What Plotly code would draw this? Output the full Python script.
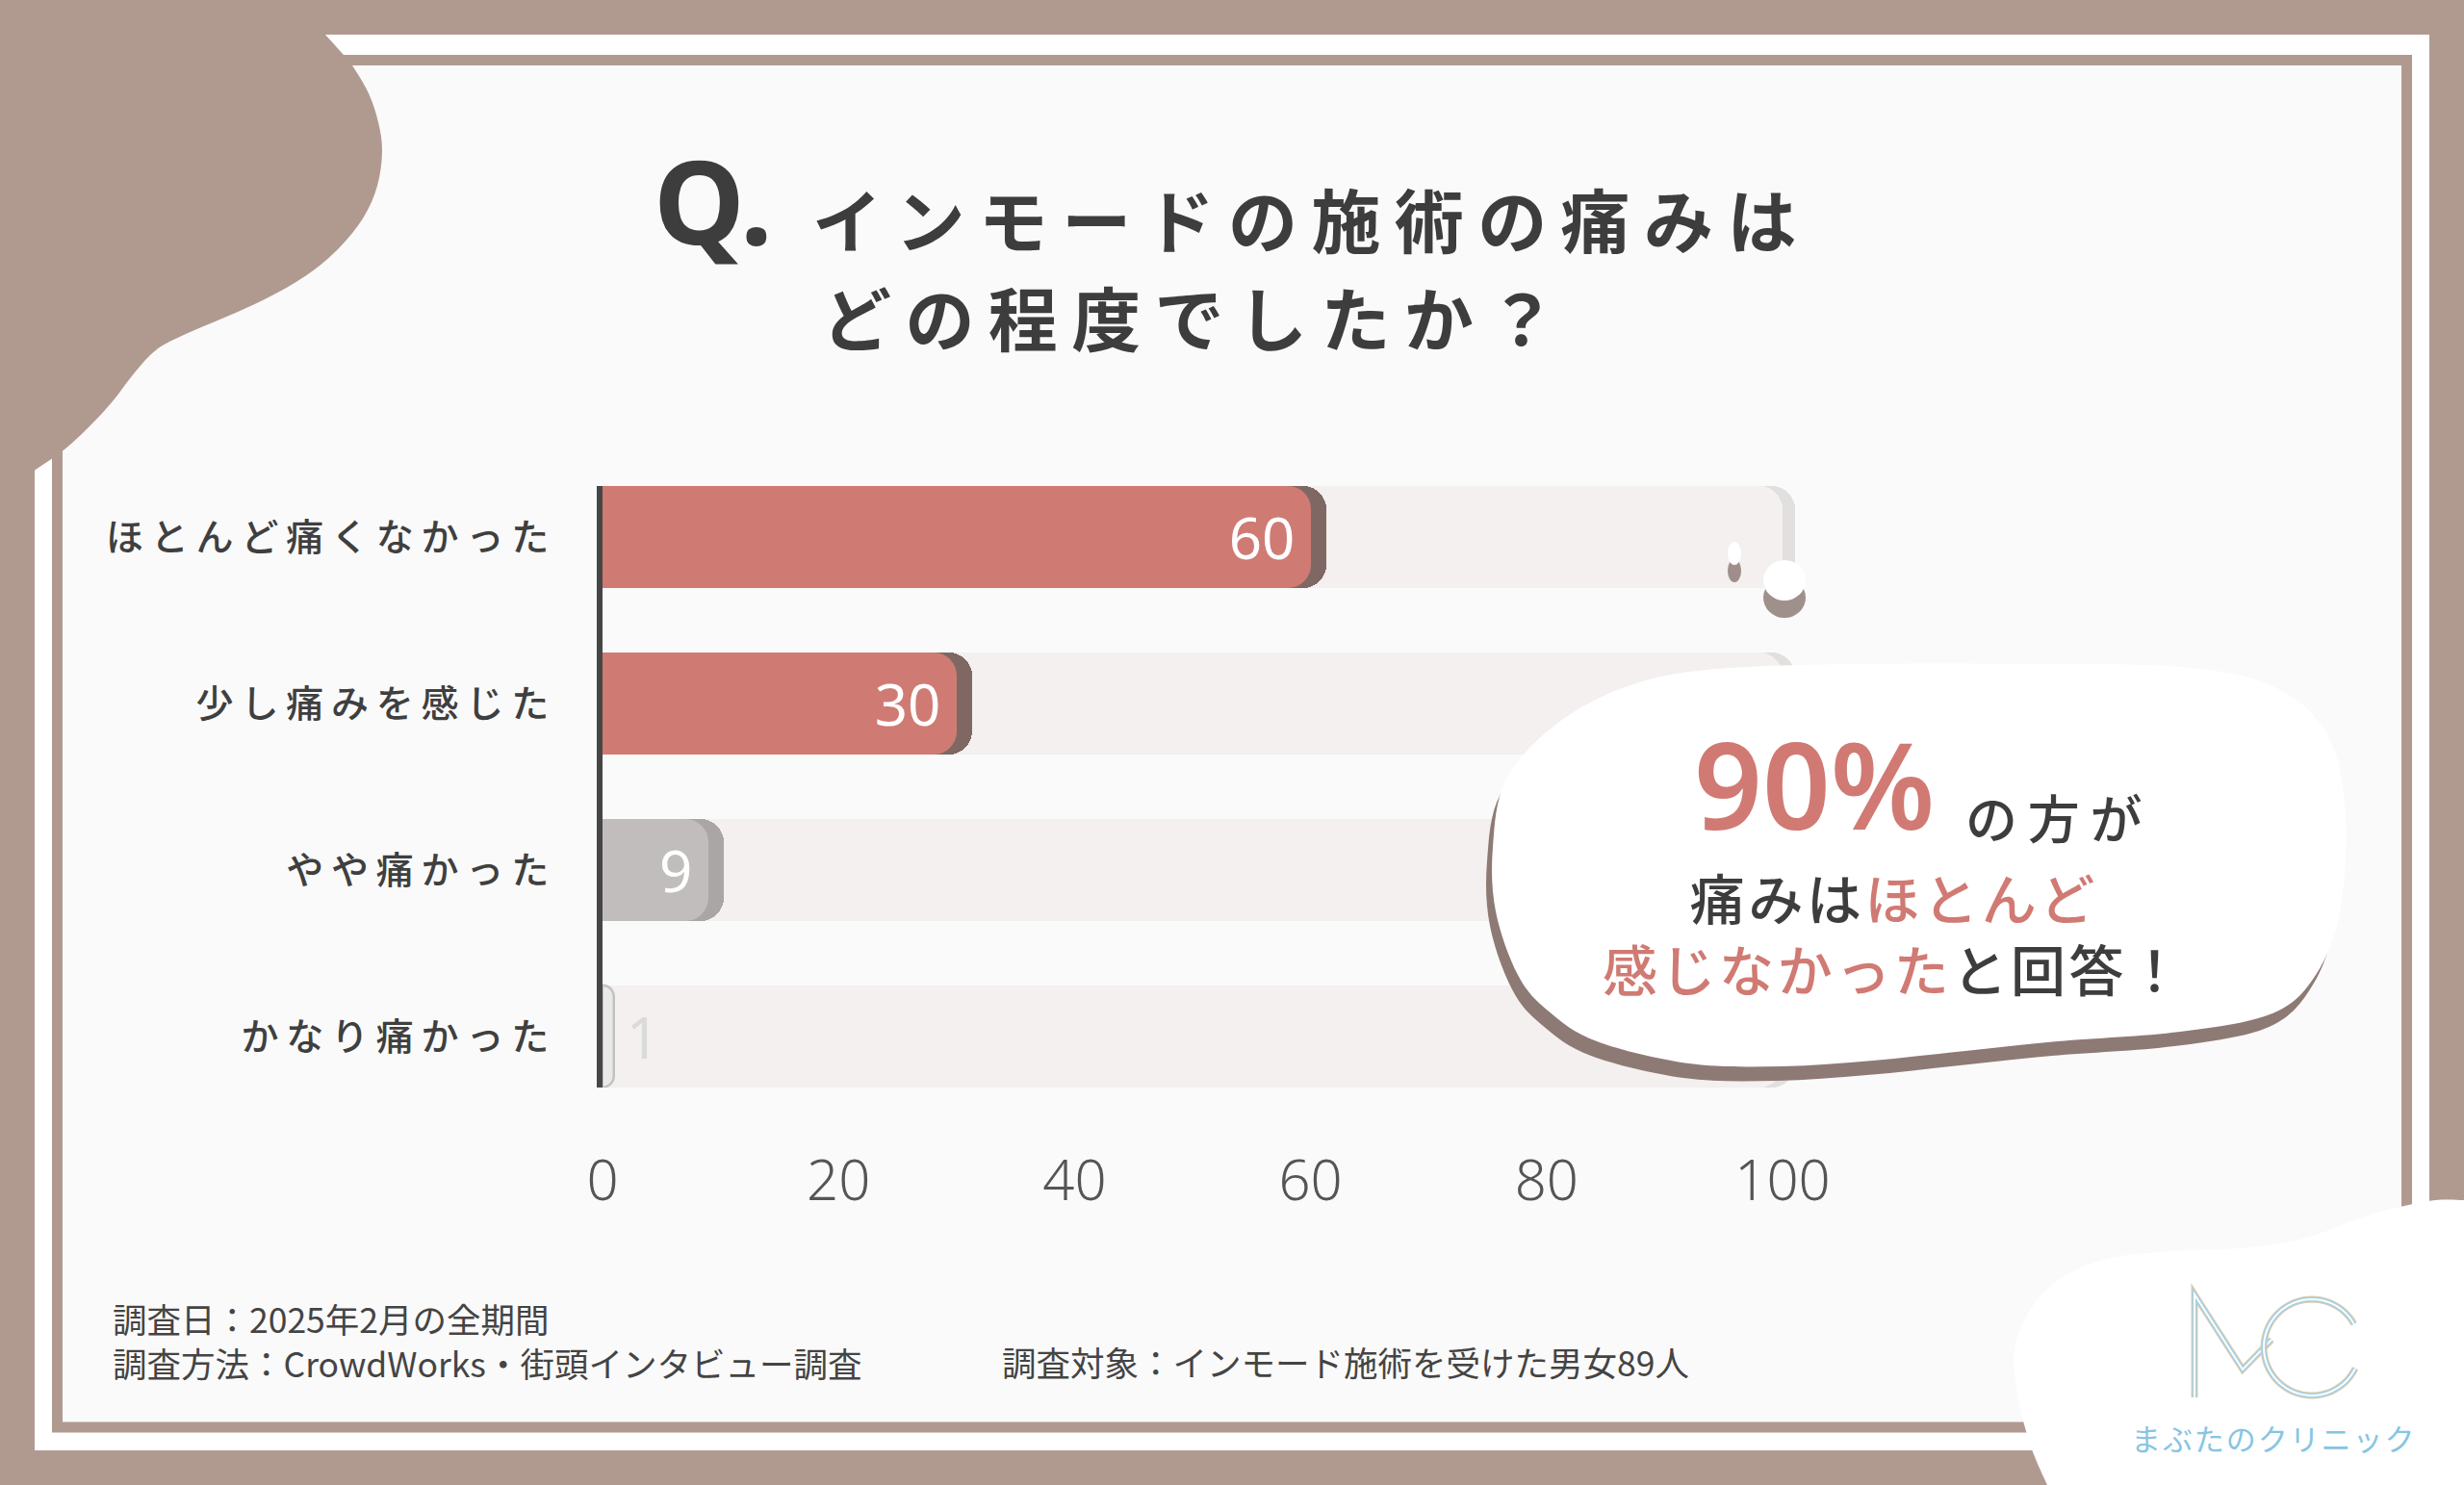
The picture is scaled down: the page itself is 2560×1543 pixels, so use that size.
import math
import plotly.graph_objects as go

# ---------------- data ----------------
categories = ["ほとんど痛くなかった", "少し痛みを感じた", "やや痛かった", "かなり痛かった"]
values = [60, 30, 9, 1]
full_scale = [100, 100, 100, 100]
x_ticks = [0, 20, 40, 60, 80, 100]

bar_colors = ["#cf7b74", "#cf7b74", "#c0bdbc", "#ebe9e8"]
shadow_colors = ["#7f6863", "#7f6863", "#a9a6a5", "rgba(0,0,0,0)"]
text_colors = ["#ffffff", "#ffffff", "#ffffff", "#dadada"]

title_q = "Q."
title_line1 = "インモードの施術の痛みは"
title_line2 = "どの程度でしたか？"
footer_date = "調査日：2025年2月の全期間"
footer_method = "調査方法：CrowdWorks・街頭インタビュー調査"
footer_target = "調査対象：インモード施術を受けた男女89人"
logo_text = "まぶたのクリニック"

# ---------------- helpers ----------------
W, H = 2560, 1543
TAUPE = "#b09a90"
DARK = "#3d3d3d"
JP = "Noto Sans CJK JP"


def px(x):
    return x / W


def py(y):
    return 1 - y / H


def spaced(s, sep="\u2009"):
    return sep.join(list(s))


def smooth_path(pts, closed=True, head=None, tail=None):
    n = len(pts)
    segs = []
    if head:
        segs.append("M {:.5f},{:.5f}".format(px(head[0][0]), py(head[0][1])))
        for p in head[1:]:
            segs.append("L {:.5f},{:.5f}".format(px(p[0]), py(p[1])))
        segs.append("L {:.5f},{:.5f}".format(px(pts[0][0]), py(pts[0][1])))
    else:
        segs.append("M {:.5f},{:.5f}".format(px(pts[0][0]), py(pts[0][1])))
    rng = n if closed else n - 1
    for i in range(rng):
        p0 = pts[(i - 1) % n] if (closed or i > 0) else pts[i]
        p1 = pts[i]
        p2 = pts[(i + 1) % n]
        p3 = pts[(i + 2) % n] if (closed or i + 2 < n) else p2
        c1 = (p1[0] + (p2[0] - p0[0]) / 6, p1[1] + (p2[1] - p0[1]) / 6)
        c2 = (p2[0] - (p3[0] - p1[0]) / 6, p2[1] - (p3[1] - p1[1]) / 6)
        segs.append("C {:.5f},{:.5f} {:.5f},{:.5f} {:.5f},{:.5f}".format(
            px(c1[0]), py(c1[1]), px(c2[0]), py(c2[1]), px(p2[0]), py(p2[1])))
    if tail:
        for p in tail:
            segs.append("L {:.5f},{:.5f}".format(px(p[0]), py(p[1])))
    segs.append("Z")
    return " ".join(segs)


def line_path(pts):
    d = "M {:.5f},{:.5f}".format(px(pts[0][0]), py(pts[0][1]))
    for p in pts[1:]:
        d += " L {:.5f},{:.5f}".format(px(p[0]), py(p[1]))
    return d


# ---------------- figure ----------------
fig = go.Figure()
RAD = 24
BW = 0.612

# each layer on its own (overlaid) y axis so that every bar gets its own rounded end
# background track shadow
fig.add_trace(go.Bar(
    y=categories, x=[v + 1.1 for v in full_scale], orientation="h", yaxis="y",
    marker=dict(color="#e2e0df", cornerradius=RAD, line=dict(width=0)),
    width=BW, hoverinfo="skip", showlegend=False))
# background track (100%)
fig.add_trace(go.Bar(
    y=categories, x=full_scale, orientation="h", yaxis="y2",
    marker=dict(color="#f3f0ef", cornerradius=RAD, line=dict(width=0)),
    width=BW, hoverinfo="skip", showlegend=False))
# value bar shadows
fig.add_trace(go.Bar(
    y=categories, x=[v + 1.3 for v in values], orientation="h", yaxis="y3",
    marker=dict(color=shadow_colors, cornerradius=RAD, line=dict(width=0)),
    width=BW, hoverinfo="skip", showlegend=False))
# value bars
fig.add_trace(go.Bar(
    y=categories, x=values, orientation="h", yaxis="y4",
    marker=dict(color=bar_colors, cornerradius=RAD,
                line=dict(color=["rgba(0,0,0,0)"] * 3 + ["#c2c2c2"], width=[0, 0, 0, 2.5])),
    width=BW,
    text=[(f"{v}\u2009" if v >= 5 else f"\u2009{v}") for v in values],
    textposition=[("inside" if v >= 5 else "outside") for v in values],
    insidetextanchor="end", textangle=0,
    insidetextfont=dict(family="Noto Sans", size=60, color=text_colors),
    outsidetextfont=dict(family="Noto Sans", size=60, color=text_colors),
    cliponaxis=False, hoverinfo="skip", showlegend=False))

X0, UNIT, XMAX = 626, 12.26, 112
plot_top, plot_bot = 505, 1130
YRANGE = [3.306, -0.306]

hidden_y = dict(type="category", categoryarray=categories, range=YRANGE,
                overlaying="y", visible=False, showgrid=False, zeroline=False,
                automargin=False)

fig.update_layout(
    width=W, height=H, autosize=False,
    margin=dict(l=0, r=0, t=0, b=0, pad=0),
    paper_bgcolor=TAUPE, plot_bgcolor="rgba(0,0,0,0)",
    barmode="overlay", bargap=0,
    xaxis=dict(domain=[px(X0), px(X0 + XMAX * UNIT)], range=[0, XMAX],
               tickvals=x_ticks, ticks="", showgrid=False, zeroline=False,
               showline=False, ticklabelstandoff=58, automargin=False,
               tickfont=dict(family="Noto Sans", size=58, color="#555555", weight=300)),
    yaxis=dict(domain=[py(plot_bot), py(plot_top)], type="category",
               categoryarray=categories, range=YRANGE,
               tickvals=categories, ticktext=[spaced(c) for c in categories],
               ticks="", showgrid=False, zeroline=False, automargin=False,
               showline=True, linecolor="#464646", linewidth=6,
               ticklabelstandoff=42,
               tickfont=dict(family=JP, size=39, color="#3f3f3f", weight=500)),
    yaxis2=hidden_y, yaxis3=hidden_y, yaxis4=hidden_y,
    font=dict(family=JP),
)

shapes = []
# outer white panel
shapes.append(dict(type="rect", xref="paper", yref="paper", layer="below",
                   x0=px(36), x1=px(2524), y0=py(1507), y1=py(36),
                   fillcolor="#ffffff", line=dict(width=0)))
# inner fill
shapes.append(dict(type="rect", xref="paper", yref="paper", layer="below",
                   x0=px(65), x1=px(2495), y0=py(1478), y1=py(68),
                   fillcolor="#fafafa", line=dict(width=0)))
# taupe frame line
shapes.append(dict(type="rect", xref="paper", yref="paper", layer="below",
                   x0=px(59.5), x1=px(2500.5), y0=py(1483), y1=py(62.5),
                   fillcolor="rgba(0,0,0,0)", line=dict(color=TAUPE, width=11)))
# top-left taupe blob
tl_pts = [(338, 36), (357, 57), (366, 68), (383, 97), (393, 127), (397, 157), (392, 193),
          (377, 227), (350, 260), (317, 287), (277, 310), (233, 330), (193, 347), (163, 363),
          (140, 387), (117, 417), (93, 443), (67, 467), (37, 488), (0, 512)]
shapes.append(dict(type="path", xref="paper", yref="paper", layer="below",
                   path=smooth_path(tl_pts, closed=False, head=[(0, 0), (330, 0)]),
                   fillcolor=TAUPE, line=dict(width=0)))
# bottom-right white blob
br_pts = [(2560, 1247), (2523, 1248), (2460, 1263), (2393, 1287), (2327, 1297), (2260, 1300),
          (2193, 1307), (2143, 1327), (2110, 1360), (2093, 1403), (2097, 1453), (2110, 1503),
          (2127, 1543)]
shapes.append(dict(type="path", xref="paper", yref="paper", layer="below",
                   path=smooth_path(br_pts, closed=False, tail=[(2560, 1543)]),
                   fillcolor="#ffffff", line=dict(width=0)))

# decorative dots near the first bar end
for (cx, cy, rx, ry) in [(1802, 575, 7, 12), (1854, 603, 22, 21)]:
    shapes.append(dict(type="circle", xref="paper", yref="paper", layer="above",
                       x0=px(cx - rx), x1=px(cx + rx), y0=py(cy + ry + 18), y1=py(cy - ry + 18),
                       fillcolor="#8f7c77", line=dict(width=0), opacity=0.85))
    shapes.append(dict(type="circle", xref="paper", yref="paper", layer="above",
                       x0=px(cx - rx), x1=px(cx + rx), y0=py(cy + ry), y1=py(cy - ry),
                       fillcolor="#ffffff", line=dict(width=0)))

# speech bubble with shadow
bubble = [(1796, 694), (1950, 690), (2100, 690), (2265, 693), (2361, 713), (2418, 763),
          (2437, 847), (2431, 947), (2406, 1013), (2361, 1053), (2265, 1072), (2138, 1082),
          (2042, 1092), (1946, 1102), (1851, 1108), (1755, 1105), (1659, 1082), (1608, 1050),
          (1577, 1013), (1554, 947), (1551, 880), (1565, 810), (1620, 750), (1700, 710)]
shadow = [(x - 6, y + 15) for (x, y) in bubble]
shapes.append(dict(type="path", xref="paper", yref="paper", layer="above",
                   path=smooth_path(shadow), fillcolor="#8e7a74", line=dict(width=0)))
shapes.append(dict(type="path", xref="paper", yref="paper", layer="above",
                   path=smooth_path(bubble), fillcolor="#ffffff", line=dict(width=0)))

# logo "MC"
m_pts = [(2280, 1452), (2280, 1345), (2330, 1423), (2360, 1392)]
cxc, cyc, rc = 2402, 1400, 50
c_pts = []
a0, a1 = 29, 334
for k in range(61):
    a = math.radians(a0 + (a1 - a0) * k / 60)
    c_pts.append((cxc + rc * math.cos(a), cyc - rc * math.sin(a)))
for d in (line_path(m_pts), line_path(c_pts)):
    shapes.append(dict(type="path", xref="paper", yref="paper", layer="above",
                       path=d, line=dict(color="#dccbae", width=7)))
    shapes.append(dict(type="path", xref="paper", yref="paper", layer="above",
                       path=d, line=dict(color="#9dd2ea", width=4.5)))
    shapes.append(dict(type="path", xref="paper", yref="paper", layer="above",
                       path=d, line=dict(color="#ffffff", width=2)))

fig.update_layout(shapes=shapes)

ann = []


def add_text(text, x, y, size, color=DARK, xanchor="left", family=JP, weight=400, align="left"):
    ann.append(dict(text=text, x=px(x), y=py(y), xref="paper", yref="paper",
                    xanchor=xanchor, yanchor="middle", showarrow=False, align=align,
                    borderpad=0,
                    font=dict(family=family, size=size, color=color, weight=weight)))


# title
add_text(title_q, 678, 208, 120, weight=700, family="Noto Sans")
add_text(spaced(title_line1), 843, 226, 72, weight=700)
add_text(spaced(title_line2), 853, 328, 72, weight=700)

# bubble texts
RED_T = "#d07a73"
add_text("90%", 1885, 814, 124, color=RED_T, xanchor="center", family="Noto Sans", weight=600)
add_text(spaced("の方が"), 2134, 848, 54, weight=500, xanchor="center")
line2 = spaced("痛みは", "\u200a") + "\u200a" + \
    "<span style='color:%s'>%s</span>" % (RED_T, spaced("ほとんど", "\u200a"))
line3 = "<span style='color:%s'>%s</span>" % (RED_T, spaced("感じなかった", "\u200a")) + \
    "\u200a" + spaced("と回答！", "\u200a")
add_text(line2 + "<br>" + line3, 1966, 968, 57, weight=500, xanchor="center", align="center")

# footer
add_text(footer_date + "<br>" + footer_method, 116, 1392, 35.5, color="#444444")
add_text(footer_target, 1040, 1414, 35.5, color="#444444")

# logo text
add_text(spaced(logo_text, "\u200a"), 2361, 1493, 31, color="#86c5e3", xanchor="center")

fig.update_layout(annotations=ann)

fig.write_html("out.html", config={"displayModeBar": False},
               post_script="document.body.style.margin='0px';")
